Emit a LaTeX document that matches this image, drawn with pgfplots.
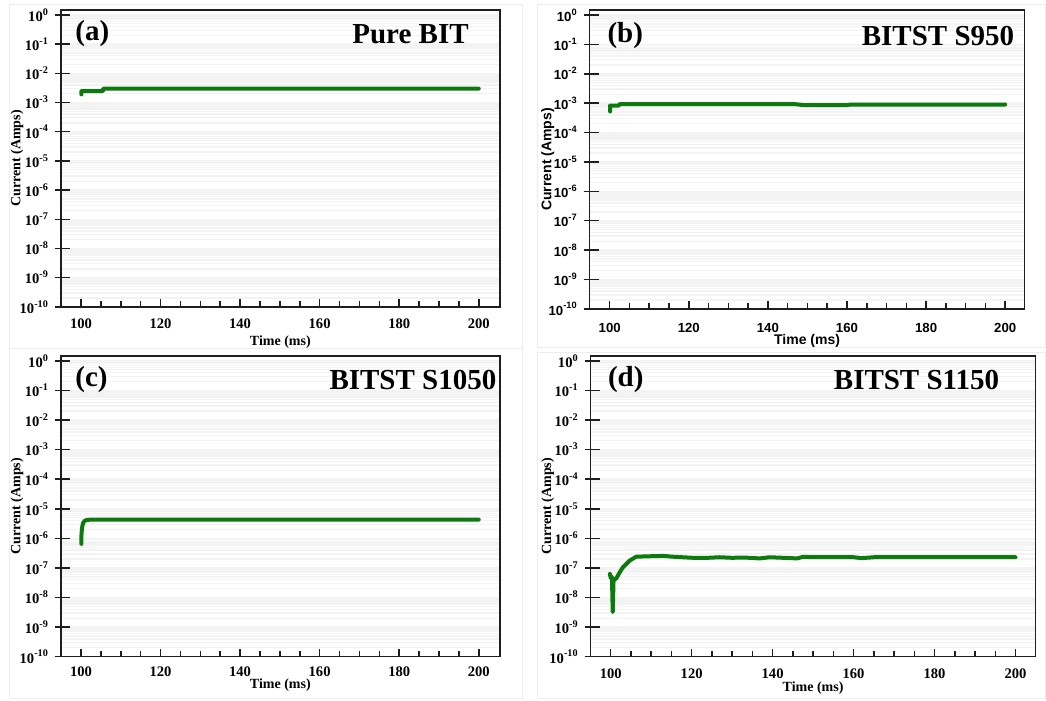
\documentclass[border=0pt]{standalone}
\usepackage{fontspec}
\setmainfont{Liberation Serif}
\setsansfont{Liberation Sans}
\usepackage{pgfplots}
\pgfplotsset{compat=1.18}
\definecolor{curve}{RGB}{12,122,12}
\definecolor{gridc}{RGB}{243,243,243}
\definecolor{axc}{RGB}{30,30,30}

\pgfplotsset{
  mypanel/.style={
    scale only axis, anchor=south west, clip=false,
    ymin=1e-10, ymax=1.48,
    tick align=inside,
    xtick pos=left, ytick pos=left,
    major tick length=4pt, minor tick length=3pt,
    major tick style={draw=axc, line width=0.75pt},
    minor tick style={draw=axc, line width=0.75pt},
    every minor y tick/.append style={draw=none},
    xtick={100,120,140,160,180,200},
    xticklabels={100,120,140,160,180,200},
    minor x tick num=3,
    ytick={1e-10,1e-9,1e-8,1e-7,1e-6,1e-5,1e-4,1e-3,1e-2,1e-1,1},
    yticklabels={10\textsuperscript{-10},10\textsuperscript{-9},10\textsuperscript{-8},10\textsuperscript{-7},10\textsuperscript{-6},10\textsuperscript{-5},10\textsuperscript{-4},10\textsuperscript{-3},10\textsuperscript{-2},10\textsuperscript{-1},10\textsuperscript{0}},
    ymajorgrids, yminorgrids,
    major grid style={gridc, line width=0.7pt},
    minor grid style={gridc, line width=0.7pt},
    tick label style={font=\bfseries\fontsize{7.3}{8}\selectfont},
    label style={font=\bfseries\fontsize{7}{8}\selectfont},
    yticklabel style={xshift=-2.5pt},
    xlabel={Time (ms)}, ylabel={Current (Amps)},
  },
  mysans/.style={
    tick label style={font=\sffamily\bfseries\fontsize{6.6}{8}\selectfont},
    label style={font=\sffamily\bfseries\fontsize{7}{8}\selectfont},
  },
}

\begin{document}
\begin{tikzpicture}
\path[fill=white] (0,0) rectangle (523pt,349.5pt);
\draw[black!7, line width=0.5pt] (5pt,175pt) rectangle (261.5pt,347pt);
\draw[black!7, line width=0.5pt] (269pt,175.5pt) rectangle (523pt,347pt);
\draw[black!7, line width=0.5pt] (5pt,0pt) rectangle (261.5pt,175pt);
\draw[black!7, line width=0.5pt] (269pt,0pt) rectangle (523pt,173pt);

% (a)
\begin{semilogyaxis}[mypanel, at={(30.5pt,196pt)}, width=219.5pt, height=148.5pt,
  xmin=94.97, xmax=205.28,
  xticklabel style={yshift=-2.5pt},
  xlabel style={at={(axis description cs:0.5,0)}, anchor=center, yshift=-17.5pt},
  ylabel style={at={(axis description cs:0,0.5)}, anchor=center, yshift=22pt}]
\addplot[curve, line width=2pt, line join=round, line cap=round] coordinates {
(100.1,1.9e-3) (100.1,2.45e-3) (105.5,2.45e-3) (105.6,3.0e-3) (200,3.0e-3)};
\node[font=\bfseries\fontsize{14.5}{16}\selectfont, inner sep=0pt, anchor=west] at (rel axis cs:0.032,0.92) {(a)};
\node[font=\bfseries\fontsize{14.5}{16}\selectfont, inner sep=0pt, anchor=east] at (rel axis cs:0.93,0.92) {Pure BIT};
\end{semilogyaxis}

% (b)
\begin{semilogyaxis}[mypanel, mysans, at={(295pt,195pt)}, width=217.5pt, height=149.5pt,
  xmin=94.95, xmax=204.88,
  xticklabel style={yshift=-3.5pt},
  xlabel style={at={(axis description cs:0.5,0)}, anchor=center, yshift=-16pt},
  ylabel style={at={(axis description cs:0,0.5)}, anchor=center, yshift=21pt}]
\addplot[curve, line width=2pt, line join=round, line cap=round] coordinates {
(100.1,5.2e-4) (100.1,8.3e-4) (102.3,8.3e-4) (102.5,9.2e-4) (147,9.2e-4)
(149,8.6e-4) (160,8.6e-4) (161,9.0e-4) (200,9.0e-4)};
\node[font=\bfseries\fontsize{14.5}{16}\selectfont, inner sep=0pt, anchor=west] at (rel axis cs:0.04,0.913) {(b)};
\node[font=\bfseries\fontsize{14.5}{16}\selectfont, inner sep=0pt, anchor=east] at (rel axis cs:0.977,0.913) {BITST S950};
\end{semilogyaxis}

% (c)
\begin{semilogyaxis}[mypanel, at={(30.5pt,21pt)}, width=219.5pt, height=150.5pt,
  xmin=94.97, xmax=205.28,
  xticklabel style={yshift=-1.5pt},
  xlabel style={at={(axis description cs:0.5,0)}, anchor=center, yshift=-14pt},
  ylabel style={at={(axis description cs:0,0.5)}, anchor=center, yshift=22pt}]
\addplot[curve, line width=2pt, line join=round, line cap=round] coordinates {
(100.1,6.5e-7) (100.12,1.3e-6) (100.25,2.2e-6) (100.5,3.2e-6) (100.9,3.9e-6)
(101.5,4.2e-6) (102.5,4.3e-6) (200,4.3e-6)};
\node[font=\bfseries\fontsize{14.5}{16}\selectfont, inner sep=0pt, anchor=west] at (rel axis cs:0.032,0.92) {(c)};
\node[font=\bfseries\fontsize{14.5}{16}\selectfont, inner sep=0pt, anchor=east] at (rel axis cs:0.993,0.92) {BITST S1050};
\end{semilogyaxis}

% (d)
\begin{semilogyaxis}[mypanel, at={(295.5pt,21pt)}, width=222.5pt, height=150.5pt,
  xmin=95.06, xmax=204.94,
  xticklabel style={yshift=-2.5pt},
  xlabel style={at={(axis description cs:0.5,0)}, anchor=center, yshift=-15.5pt},
  ylabel style={at={(axis description cs:0,0.5)}, anchor=center, yshift=21.5pt}]
\addplot[curve, line width=2pt, line join=round, line cap=round] coordinates {
(99.8,6.3e-8) (100.0,4.6e-8) (100.3,5.0e-8) (100.5,3.2e-9) (100.7,3.8e-8)
(101.4,4.5e-8) (102.2,7.0e-8) (103.0,1.05e-7) (104.7,1.78e-7) (106.3,2.4e-7)
(110.4,2.5e-7) (113,2.55e-7) (115.3,2.4e-7) (120.3,2.2e-7) (124,2.2e-7)
(126.9,2.3e-7) (130,2.2e-7) (133,2.25e-7) (136.8,2.1e-7) (139.3,2.3e-7)
(146,2.1e-7) (147.4,2.35e-7) (160,2.3e-7) (162,2.15e-7) (165,2.3e-7) (200,2.3e-7)};
\node[font=\bfseries\fontsize{14.5}{16}\selectfont, inner sep=0pt, anchor=west] at (rel axis cs:0.038,0.92) {(d)};
\node[font=\bfseries\fontsize{14.5}{16}\selectfont, inner sep=0pt, anchor=east] at (rel axis cs:0.919,0.92) {BITST S1150};
\end{semilogyaxis}

% axis frames and crossing y ticks (decorations, in canvas units)
\draw[axc, line width=0.75pt] (30.5pt,196pt) rectangle ++(219.5pt,148.5pt);
\draw[axc, line width=0.75pt] (295pt,195pt) rectangle ++(217.5pt,149.5pt);
\draw[axc, line width=0.75pt] (30.5pt,21pt) rectangle ++(219.5pt,150.5pt);
\draw[axc, line width=0.75pt] (295.5pt,21pt) rectangle ++(222.5pt,150.5pt);
\foreach \k in {0,...,10}{
  \draw[axc, line width=0.75pt] (27.5pt,{196pt+\k*14.6013pt}) -- ++(7.5pt,0pt);
  \draw[axc, line width=0.75pt] (292pt,{195pt+\k*14.6997pt}) -- ++(7.5pt,0pt);
  \draw[axc, line width=0.75pt] (27.5pt,{21pt+\k*14.798pt}) -- ++(7.5pt,0pt);
  \draw[axc, line width=0.75pt] (292.5pt,{21pt+\k*14.798pt}) -- ++(7.5pt,0pt);
}
\end{tikzpicture}
\end{document}
